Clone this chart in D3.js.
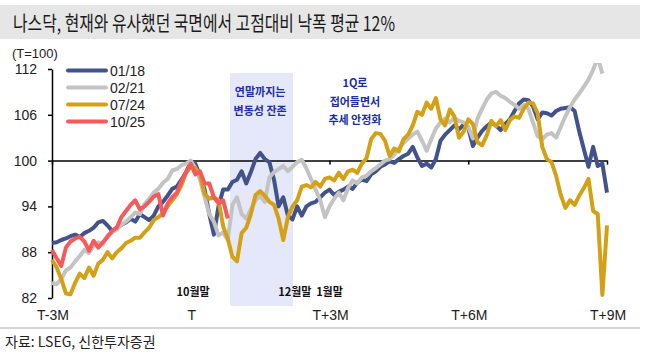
<!DOCTYPE html>
<html><head><meta charset="utf-8">
<script src="https://cdn.jsdelivr.net/npm/d3@7"></script>
<style>
body{margin:0;background:#fff}
svg{display:block}
text{font-family:"Noto Sans CJK KR","Noto Sans",sans-serif}
text.lat{font-family:"Liberation Sans",Arial,sans-serif}
</style>
</head><body>
<svg id="c" width="645" height="353"></svg>
<script>
// ---------- data ----------
const titleText = "나스닥, 현재와 유사했던 국면에서 고점대비 낙폭 평균 12%";
const unitText = "(T=100)";
const sourceText = "자료: LSEG, 신한투자증권";
const seriesNames = ["01/18", "02/21", "07/24", "10/25"];
const STEP = 0.1; // months between points, month 0 = T-3M
const yTicks = [82, 88, 94, 100, 106, 112];
const xTicks = [0, 3, 6, 9, 12];
const xTickLabels = ["T-3M", "T", "T+3M", "T+6M", "T+9M"];
const shadeSpan = [3.85, 5.21];
const monthMarks = [{m: 3.05, t: "10월말"}, {m: 5.25, t: "12월말"}, {m: 6.0, t: "1월말"}];
const noteA = {m: 4.5, lines: ["연말까지는", "변동성 잔존"]};
const noteB = {m: 6.55, lines: ["1Q로", "접어들면서", "추세 안정화"]};

const s0118 = [89.2,89.3,89.6,89.8,90.1,90.3,90.0,90.5,90.8,91.2,
 91.9,92.1,91.5,90.8,91.2,91.6,91.9,92.4,92.0,93.0,
 92.6,92.2,92.8,94.0,94.6,95.4,96.3,96.6,97.5,98.5,
 99.8,99.6,98.0,96.2,93.0,90.3,94.0,96.2,96.2,97.2,
 97.5,98.6,97.0,98.5,100.2,101.0,100.2,99.8,97.5,94.0,
 95.2,92.8,92.3,94.0,92.8,94.0,94.4,94.6,95.2,95.8,
 96.2,95.5,95.9,96.2,96.6,96.3,97.1,97.5,97.3,98.2,
 98.6,99.2,99.5,99.9,99.7,100.2,100.6,100.9,101.8,100.4,
 99.3,99.6,99.1,100.2,102.6,103.4,104.0,104.6,104.1,104.7,
 104.3,101.9,103.0,103.9,104.5,105.0,104.6,104.0,104.8,105.4,
 106.5,107.5,108.0,107.9,107.1,105.4,106.3,106.2,105.9,106.5,
 106.8,106.9,107.0,106.5,103.8,101.5,99.2,101.8,99.3,99.6,
 95.8];
const s0221 = [84.0,83.8,84.5,85.6,86.0,86.8,87.5,88.3,87.9,88.8,
 89.3,89.0,90.2,90.6,91.0,91.6,92.0,92.6,93.2,93.0,
 94.3,95.0,95.8,96.3,97.1,97.6,98.7,98.9,99.4,99.6,
 100.0,99.0,97.5,95.2,93.0,92.0,90.2,90.6,89.6,94.2,
 95.2,93.0,92.4,93.6,94.8,95.4,94.6,97.8,98.5,98.9,
 99.3,98.6,99.2,99.8,100.1,99.0,97.6,96.2,94.8,92.6,
 94.0,95.0,95.8,94.8,96.4,97.4,97.0,97.8,98.0,98.6,
 99.0,99.5,100.0,100.2,100.8,101.6,102.3,102.9,103.4,103.8,
 102.6,101.3,102.8,104.2,105.0,105.5,105.0,105.6,105.2,105.0,
 104.4,102.9,105.5,106.8,108.0,108.8,109.0,108.5,108.2,107.7,
 107.3,106.8,107.3,106.8,105.0,103.2,102.8,103.4,103.6,103.0,
 104.4,105.8,107.0,108.0,108.8,109.7,110.6,111.9,113.5,111.4];
const s0724 = [87.0,86.0,84.5,82.6,82.5,84.0,85.2,84.6,86.0,84.9,
 86.5,87.0,88.0,87.2,88.0,88.5,89.2,89.5,89.9,89.9,
 90.6,91.2,92.2,92.6,93.1,94.0,94.8,95.6,96.8,98.4,
 99.2,99.0,98.2,95.6,95.0,95.2,94.8,91.4,89.8,87.4,
 86.8,90.5,91.2,93.0,95.5,96.0,95.4,94.6,94.2,92.4,
 89.6,92.6,94.0,94.8,96.6,96.8,96.5,97.2,96.6,97.6,
 97.8,97.4,98.4,97.6,98.6,98.8,98.4,99.6,100.3,102.8,
 103.6,103.5,102.6,100.6,101.6,101.2,102.8,103.4,104.6,106.4,
 106.0,107.6,106.8,108.2,105.4,104.6,106.7,105.8,103.0,103.8,
 105.4,104.8,102.4,102.0,103.3,105.2,104.5,105.3,104.0,105.3,
 105.8,105.6,106.8,107.6,107.5,106.2,101.8,100.2,99.8,98.0,
 95.5,93.8,94.8,94.2,95.4,96.4,97.6,93.4,93.0,82.4,
 91.5];
const s1025 = [88.3,87.2,86.2,88.6,89.4,89.8,90.0,89.4,88.2,89.5,
 88.6,89.3,90.0,90.8,91.2,92.6,93.4,94.2,94.8,93.6,
 94.0,94.6,95.3,95.6,92.8,94.4,95.2,95.8,97.3,98.5,
 99.6,98.2,98.6,97.0,97.0,95.2,94.4,94.8,92.4];

// ---------- drawing ----------
const colors = ["#42538b", "#c3c3c3", "#d4a116", "#f65a5a"];
const allSeries = [s0118, s0221, s0724, s1025];
const svg = d3.select("#c");
const x = d3.scaleLinear().domain([0, 12]).range([52, 607]);
const y = d3.scaleLinear().domain([82, 112]).range([298, 69]);

// title band
svg.append("rect").attr("x", 0).attr("y", 5).attr("width", 640).attr("height", 34).attr("fill", "#e6e6e6");
svg.append("text").attr("x", 13).attr("y", 30.5).attr("font-size", 20.5).attr("fill", "#1a1a1a")
  .attr("textLength", 382).attr("lengthAdjust", "spacingAndGlyphs").text(titleText);

// shaded period
svg.append("rect").attr("x", x(shadeSpan[0])).attr("y", 73)
  .attr("width", x(shadeSpan[1]) - x(shadeSpan[0])).attr("height", 233).attr("fill", "#e5e8fa");

// unit
svg.append("text").attr("class", "lat").attr("x", 12).attr("y", 58).attr("font-size", 13)
  .attr("fill", "#222").text(unitText);

// y axis
const gy = svg.append("g").attr("transform", "translate(52,0)")
  .call(d3.axisLeft(y).tickValues(yTicks).tickSize(4).tickSizeOuter(0).tickPadding(11));
gy.select(".domain").attr("stroke", "#000").attr("stroke-width", 1.5);
gy.selectAll(".tick line").attr("stroke", "#000").attr("stroke-width", 1.5);
gy.selectAll(".tick text").attr("class", "lat").attr("font-size", 14).attr("fill", "#222")
  .style("font-family", "'Liberation Sans', Arial, sans-serif");

// x axis along 100
const gx = svg.append("g").attr("transform", `translate(0,${y(100)})`)
  .call(d3.axisBottom(x).tickValues(xTicks).tickSize(4).tickSizeOuter(0).tickFormat(""));
gx.select(".domain").attr("stroke", "#000").attr("stroke-width", 1.5);
gx.selectAll(".tick line").attr("stroke", "#000").attr("stroke-width", 1.5);

svg.append("g").selectAll("text").data(xTicks).join("text").attr("class", "lat")
  .attr("x", d => x(d) + 1).attr("y", 320).attr("text-anchor", "middle")
  .attr("font-size", 14).attr("fill", "#222").text((d, i) => xTickLabels[i]);

// clip
svg.append("clipPath").attr("id", "clip").append("rect")
  .attr("x", 40).attr("y", y(112.8)).attr("width", 590).attr("height", 310 - y(112.8));

const line = d3.line().x((d, i) => x(i * STEP)).y(d => y(d));
svg.append("g").attr("clip-path", "url(#clip)").selectAll("path").data(allSeries).join("path")
  .attr("d", line).attr("fill", "none")
  .attr("stroke", (d, i) => colors[i]).attr("stroke-width", 4)
  .attr("stroke-linejoin", "round").attr("stroke-linecap", "butt");

// legend
const lg = svg.append("g").selectAll("g").data(seriesNames).join("g")
  .attr("transform", (d, i) => `translate(0,${70.5 + i * 17})`);
lg.append("line").attr("x1", 68).attr("x2", 106).attr("stroke", (d, i) => colors[i])
  .attr("stroke-width", 4).attr("stroke-linecap", "round");
lg.append("text").attr("class", "lat").attr("x", 110).attr("y", 5).attr("font-size", 14)
  .attr("fill", "#222").text(d => d);

// month marks
svg.append("g").selectAll("text").data(monthMarks).join("text")
  .attr("x", d => x(d.m)).attr("y", 296).attr("text-anchor", "middle")
  .attr("font-size", 11).attr("font-weight", "bold").attr("fill", "#111").text(d => d.t);

// blue notes
[[noteA, 96], [noteB, 87]].forEach(([n, y0]) => {
  svg.append("g").selectAll("text").data(n.lines).join("text")
    .attr("x", x(n.m)).attr("y", (d, i) => y0 + i * 18.5).attr("text-anchor", "middle")
    .attr("font-size", 11).attr("font-weight", "bold").attr("fill", "#1d2ea6").text(d => d);
});

// bottom rule and source
svg.append("line").attr("x1", 0).attr("x2", 640).attr("y1", 328).attr("y2", 328)
  .attr("stroke", "#c8c8c8").attr("stroke-width", 1.5);
svg.append("text").attr("x", 5).attr("y", 347).attr("font-size", 14).attr("fill", "#222").text(sourceText);
</script>
</body></html>
